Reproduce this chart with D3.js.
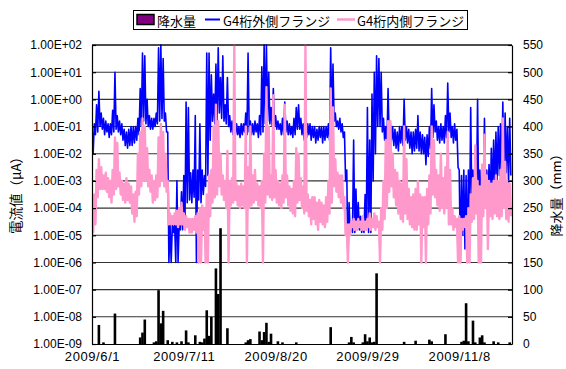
<!DOCTYPE html>
<html>
<head>
<meta charset="utf-8">
<script src="https://cdn.jsdelivr.net/npm/d3@7"></script>
<style>
  body { margin: 0; background: #fff; }
  svg { display: block; }
</style>
</head>
<body>
<div id="chart"></div>
<script>
// period shown (daily values, day 0 = 2009/6/1)
const startDate = '2009/6/1'
const endDate = '2009/12/1'
const xTickLabels = ['2009/6/1', '2009/7/11', '2009/8/20', '2009/9/29', '2009/11/8']

const leftTicks = [1e2, 1e1, 1e0, 1e-1, 1e-2, 1e-3, 1e-4, 1e-5, 1e-6, 1e-7, 1e-8, 1e-9]
const rightTicks = [0, 50, 100, 150, 200, 250, 300, 350, 400, 450, 500, 550]

const seriesNames = ['降水量', 'G4桁外側フランジ', 'G4桁内側フランジ']

// current (log10 µA), daily low / high, G4 outer flange
const outerLo = [
  -2.0, -1.3, -1.2, -1.0, -1.1, -1.3, -1.2, -1.4, -1.3, -1.2,
  -1.1, -1.2, -1.3, -1.5, -1.7, -1.8, -1.7, -1.7, -1.6, -1.5,
  -1.3, -1.0, -0.8, -0.9, -1.0, -1.1, -1.1, -1.0, -0.9, -0.8,
  -0.7, -0.8, -1.2, -6.0, -6.0, -4.9, -6.0, -6.0, -4.8, -4.8,
  -4.6, -3.8, -3.7, -3.8, -3.6, -6.0, -3.7, -3.8, -3.5, -3.2,
  -2.8, -1.5, -0.8, -0.9, -0.8, -0.5, -0.7, -0.8, -0.9, -1.0,
  -1.2, -1.3, -1.3, -1.3, -1.4, -1.3, -1.2, -1.3, -1.2, -1.3,
  -1.3, -1.2, -1.4, -1.3, -1.2, -0.9, -0.8, -0.9, -1.0, -1.0,
  -1.1, -1.1, -1.3, -1.3, -1.2, -1.3, -1.3, -1.4, -1.3, -1.1,
  -1.1, -1.3, -1.5, -1.4, -1.3, -1.5, -1.4, -1.6, -1.5, -1.4,
  -1.6, -1.5, -1.4, -1.5, -1.0, -0.8, -1.0, -1.1, -1.2, -1.4,
  -3.0, -6.0, -4.9, -4.9, -4.9, -4.8, -4.8, -4.9, -4.9, -4.8,
  -4.9, -4.9, -3.0, -2.0, -1.0, -1.0, -1.2, -1.5, -1.7, -1.5,
  -1.5, -1.7, -1.8, -1.9, -1.6, -1.7, -1.5, -1.6, -1.8, -2.0,
  -1.9, -1.8, -1.9, -2.0, -2.0, -2.4, -2.1, -1.8, -1.4, -1.2,
  -1.5, -1.6, -1.5, -1.6, -1.4, -1.2, -1.4, -1.6, -1.5, -2.5,
  -5.9, -5.0, -5.5, -6.0, -4.8, -3.8, -3.5, -3.8, -3.9, -3.7,
  -3.5, -3.6, -3.7, -3.8, -3.5, -3.3, -3.0, -2.8, -3.0, -2.9,
  -2.7, -3.1, -2.8
]
const outerHi = [
  -1.0, -0.9, -0.2, 0.3, -0.5, -0.7, -0.8, -0.9, -0.9, -0.4,
  1.0, -0.6, -0.8, -0.9, -1.1, -1.2, -1.1, -1.0, -1.0, -1.0,
  -0.7, 0.4, 1.7, 1.6, 0.0, -0.6, -0.7, -0.7, -0.5, 1.9,
  2.0, 1.5, -0.5, -1.2, -4.6, -4.6, -4.6, -3.0, -4.5, -3.4,
  -2.8, -0.1, -0.3, -2.7, -2.6, -0.6, -2.6, -0.9, -2.6, -2.8,
  1.7, 1.7, 0.9, 0.2, 1.3, 1.9, 0.8, 1.6, -0.2, 0.8,
  -0.6, -0.8, -0.9, -0.9, -1.0, -0.9, -0.9, -0.5, 1.7, -0.8,
  -0.9, -0.8, -0.9, -0.6, 1.2, 2.0, 2.0, 1.0, -0.3, 0.4,
  -0.6, -0.8, -0.9, -0.7, -0.1, -0.8, -0.9, -1.0, -0.7, -0.3,
  -0.2, -0.7, -0.9, -0.9, -0.9, -0.9, -1.0, -1.0, -1.1, -1.0,
  -1.0, -1.0, -1.0, -0.9, 1.9, 1.3, -0.5, -0.8, -0.7, -0.9,
  -1.2, -2.6, -3.8, -4.6, -1.5, -3.3, -3.8, -4.3, -4.4, -3.5,
  -0.3, -1.5, 0.2, 1.0, 1.6, 1.5, 1.0, -0.7, -1.0, 0.4,
  -0.9, -1.0, -1.1, -1.2, -1.0, -1.0, 0.0, -1.0, -1.1, -1.2,
  -1.2, -1.1, -0.6, -1.2, -1.3, -1.4, -1.3, -1.0, 0.4, -0.2,
  -0.8, -1.0, -0.9, -1.0, -0.6, 0.6, -0.5, -1.0, -0.9, -1.1,
  -2.6, -2.8, -2.6, -2.8, -2.6, -0.3, -2.6, -2.7, 0.0, -2.6,
  -2.5, -0.7, -2.6, -2.4, -1.8, -1.5, -1.2, -1.0, -0.9, -0.1,
  -0.5, -1.0, -0.7
]

// current (log10 µA), daily low / high, G4 inner flange
const innerLo = [
  -4.9, -4.6, -3.6, -3.3, -3.3, -3.3, -3.4, -3.6, -3.8, -3.5,
  -3.3, -3.2, -3.5, -3.7, -3.8, -3.7, -3.8, -4.2, -4.5, -4.3,
  -3.5, -3.2, -3.0, -3.0, -3.2, -3.4, -3.8, -3.7, -3.6, -3.2,
  -3.0, -3.2, -3.4, -4.6, -4.6, -4.6, -4.6, -4.7, -4.6, -4.6,
  -4.8, -4.7, -4.9, -4.9, -4.8, -4.9, -6.0, -6.0, -4.8, -6.0,
  -6.0, -4.3, -3.8, -3.6, -3.5, -3.2, -3.5, -3.7, -4.0, -6.0,
  -3.9, -3.8, -3.7, -3.9, -4.0, -3.9, -4.0, -6.0, -4.0, -3.9,
  -3.8, -3.7, -3.9, -4.0, -6.0, -3.8, -3.5, -3.6, -3.7, -3.6,
  -3.8, -3.9, -4.0, -3.8, -3.6, -3.9, -4.1, -4.2, -4.3, -3.8,
  -3.7, -4.0, -4.2, -4.1, -4.3, -4.6, -4.4, -4.6, -4.8, -4.5,
  -4.6, -4.7, -4.5, -4.2, -3.8, -3.2, -3.4, -3.6, -3.8, -4.0,
  -5.0, -6.0, -5.0, -4.7, -4.8, -4.8, -4.7, -4.8, -4.8, -4.8,
  -4.7, -4.8, -4.7, -4.8, -4.7, -6.0, -4.8, -4.4, -4.0, -3.4,
  -3.2, -3.6, -3.9, -4.2, -4.4, -4.5, -4.2, -4.4, -4.6, -4.7,
  -4.8, -4.8, -4.6, -6.0, -4.7, -6.0, -4.6, -4.2, -3.5, -3.6,
  -3.9, -4.1, -4.0, -4.2, -4.0, -4.6, -4.6, -4.8, -4.7, -6.0,
  -6.0, -4.8, -4.7, -6.0, -6.0, -4.5, -4.4, -4.2, -6.0, -6.0,
  -4.3, -4.0, -5.5, -4.3, -4.4, -4.2, -4.3, -4.4, -4.3, -4.0,
  -4.4, -4.5, -4.3
]
const innerHi = [
  -4.2, -3.5, -2.6, -2.2, -2.5, -2.8, -2.7, -2.9, -3.0, -2.6,
  -1.4, -1.6, -2.7, -3.0, -3.1, -2.9, -3.1, -3.2, -3.5, -3.4,
  -2.0, -1.2, -0.7, -1.0, -1.8, -2.6, -2.8, -3.0, -2.8, -1.4,
  -0.9, -1.2, -2.0, -3.0, -4.2, -4.3, -4.2, -4.1, -4.0, -3.8,
  -4.2, -4.3, -4.4, -4.4, -4.4, -4.3, -4.2, -4.0, -3.9, -4.0,
  -3.5, -2.8, -2.6, -1.0, -0.2, -0.8, -2.0, -2.8, -3.0, -1.9,
  -3.0, -2.9, 2.0, -3.1, -3.2, -3.1, -3.2, -1.0, -2.5, -1.0,
  -2.8, -2.6, -3.1, -3.2, -3.0, -2.0, 0.45, -1.0, -2.8, 0.15,
  -2.6, -3.0, -3.1, -2.8, -0.2, -2.8, -3.2, -3.3, -3.0, -1.8,
  -2.0, -2.9, -3.2, 2.0, -3.5, -3.7, -3.6, -3.6, -3.8, -3.7,
  -3.8, -3.9, -3.6, -3.0, 0.4, -0.3, -2.2, -2.7, -2.8, -2.8,
  -3.6, -4.6, -4.6, -4.5, -4.4, -4.5, -4.4, -4.5, -4.3, -4.5,
  -4.4, -4.2, -4.4, -4.2, -4.3, -4.5, -4.0, -3.0, -1.5, -0.8,
  -0.8, -2.0, -2.6, -2.7, -3.0, -3.1, -1.0, -2.2, -3.3, -3.6,
  -3.5, -3.3, -3.0, -3.5, -3.6, -3.6, -3.3, -2.8, -1.0, -1.5,
  -2.6, -2.8, -2.0, -2.9, -2.5, -1.2, -2.6, -4.0, -4.3, -4.4,
  -4.3, -4.4, -4.4, -4.3, -4.0, -3.5, -2.9, -1.7, -3.0, -3.2,
  -2.4, -1.3, -2.8, -3.0, -3.1, -3.0, -2.8, -3.0, -2.6, -0.7,
  -2.3, -3.0, -3.1
]

// daily rainfall (mm), day index from 2009/6/1
const rainDays = [3, 5, 10, 21, 22, 23, 27, 28, 29, 30, 31, 33, 35, 37, 39, 41, 42, 45, 47, 48,
  49, 50, 51, 52, 54, 55, 56, 59, 67, 68, 69, 73, 74, 75, 76, 77, 78, 81, 83, 89,
  104, 112, 113, 114, 118, 119, 120, 121, 122, 123, 124, 136, 141, 147, 148, 154, 161, 162, 163, 164,
  166, 167, 169, 170, 171, 175, 177, 182]
const rainMm = [35, 3, 56, 12, 21, 45, 3, 5, 99, 38, 61, 7, 4, 3, 5, 25, 3, 16, 4, 3,
  10, 62, 15, 50, 139, 92, 213, 29, 3, 7, 9, 23, 7, 22, 39, 4, 19, 5, 3, 3,
  31, 3, 13, 3, 3, 18, 5, 12, 3, 4, 130, 4, 6, 8, 5, 18, 4, 6, 75, 5,
  43, 3, 12, 16, 3, 5, 3, 3]

const parseDate = s => { const [y, m, d] = s.split('/').map(Number); return new Date(y, m - 1, d) }

const width = 566
const height = 369
const plot = { left: 92, right: 512, top: 45, bottom: 344 }

const svg = d3.select('#chart')
  .append('svg')
  .attr('width', width)
  .attr('height', height)

// scales
const start = parseDate(startDate)
const x = d3.scaleTime()
  .domain([start, parseDate(endDate)])
  .range([plot.left, plot.right])

const yLeft = d3.scaleLog()
  .domain([1e-9, 1e2])
  .range([plot.bottom, plot.top])

const yRight = d3.scaleLinear()
  .domain([0, 550])
  .range([plot.bottom, plot.top])

const expLabel = v => {
  const e = Math.round(Math.log10(v))
  return '1.00E' + (e < 0 ? '-' : '+') + String(Math.abs(e)).padStart(2, '0')
}

// gridlines
svg.append('g')
  .selectAll('line')
  .data(leftTicks.slice(0, -1))
  .enter()
  .append('line')
  .attr('x1', plot.left)
  .attr('x2', plot.right)
  .attr('y1', d => yLeft(d))
  .attr('y2', d => yLeft(d))
  .attr('stroke', '#333')
  .attr('stroke-width', 1.1)

// rainfall bars
svg.append('g')
  .selectAll('rect')
  .data(rainDays.map((d, i) => ({ date: d3.timeDay.offset(start, d), mm: rainMm[i] })))
  .enter()
  .append('rect')
  .attr('x', d => x(d.date) - 1.3)
  .attr('y', d => yRight(d.mm))
  .attr('width', 2.6)
  .attr('height', d => plot.bottom - yRight(d.mm))
  .attr('fill', '#000')

// current series: each day drawn high -> low so the hourly scatter reads as a band
const bandPoints = (lo, hi) => lo.flatMap((v, i) => {
  const day = d3.timeDay.offset(start, i)
  return [
    { t: day, v: Math.pow(10, hi[i]) },
    { t: d3.timeHour.offset(day, 12), v: Math.pow(10, v) }
  ]
})

svg.append('clipPath')
  .attr('id', 'plot-clip')
  .append('rect')
  .attr('x', plot.left)
  .attr('y', plot.top - 1)
  .attr('width', plot.right - plot.left)
  .attr('height', plot.bottom - plot.top + 1)

const line = d3.line()
  .x(d => x(d.t))
  .y(d => yLeft(d.v))

svg.append('path')
  .datum(bandPoints(outerLo, outerHi))
  .attr('clip-path', 'url(#plot-clip)')
  .attr('fill', 'none')
  .attr('stroke', '#0000ff')
  .attr('stroke-width', 1.6)
  .attr('stroke-linejoin', 'round')
  .attr('d', line)

svg.append('path')
  .datum(bandPoints(innerLo, innerHi))
  .attr('clip-path', 'url(#plot-clip)')
  .attr('fill', 'none')
  .attr('stroke', '#ff99cc')
  .attr('stroke-width', 2.4)
  .attr('stroke-linejoin', 'round')
  .attr('d', line)

// axes
const leftAxis = svg.append('g')
  .attr('transform', `translate(${plot.left},0)`)
  .call(d3.axisLeft(yLeft).tickValues(leftTicks).tickFormat(expLabel).tickSizeInner(-4).tickSizeOuter(0).tickPadding(10))

const rightAxis = svg.append('g')
  .attr('transform', `translate(${plot.right},0)`)
  .call(d3.axisRight(yRight).tickValues(rightTicks).tickSizeInner(-4).tickSizeOuter(0).tickPadding(11))

const bottomAxis = svg.append('g')
  .attr('transform', `translate(0,${plot.bottom})`)
  .call(d3.axisBottom(x).tickValues(xTickLabels.map(parseDate)).tickFormat((d, i) => xTickLabels[i]).tickSize(0).tickPadding(8))

svg.selectAll('.domain, .tick line')
  .attr('stroke', '#000')
  .attr('stroke-width', 1.2)

leftAxis.selectAll('text').attr('font-size', 12)
rightAxis.selectAll('text').attr('font-size', 12)
bottomAxis.selectAll('text').attr('font-size', 13).attr('letter-spacing', 0.6)
svg.selectAll('.tick text')
  .attr('font-family', '"Liberation Sans", Arial, sans-serif')
  .attr('fill', '#000')

// top border
svg.append('line')
  .attr('x1', plot.left)
  .attr('x2', plot.right)
  .attr('y1', plot.top)
  .attr('y2', plot.top)
  .attr('stroke', '#000')
  .attr('stroke-width', 1.2)

// axis titles
const jpFont = '"Noto Sans CJK JP", sans-serif'

svg.append('text')
  .attr('text-anchor', 'middle')
  .attr('dominant-baseline', 'central')
  .attr('transform', 'translate(15,192) rotate(-90)')
  .attr('font-family', jpFont)
  .attr('font-size', 13.5)
  .text('電流値（μA）')

svg.append('text')
  .attr('text-anchor', 'middle')
  .attr('dominant-baseline', 'central')
  .attr('transform', 'translate(555,192) rotate(-90)')
  .attr('font-family', jpFont)
  .attr('font-size', 13)
  .text('降水量（mm）')

// legend
const legend = svg.append('g')
  .attr('font-family', jpFont)
  .attr('font-size', 13)

legend.append('rect')
  .attr('x', 133.5)
  .attr('y', 10.5)
  .attr('width', 334)
  .attr('height', 19)
  .attr('fill', '#fff')
  .attr('stroke', '#000')

legend.append('rect')
  .attr('x', 137)
  .attr('y', 14.5)
  .attr('width', 17)
  .attr('height', 10)
  .attr('fill', '#800080')
  .attr('stroke', '#000')
  .attr('stroke-width', 1.5)

legend.append('line')
  .attr('x1', 205).attr('x2', 220)
  .attr('y1', 19.5).attr('y2', 19.5)
  .attr('stroke', '#0000ff')
  .attr('stroke-width', 2)

legend.append('line')
  .attr('x1', 337).attr('x2', 355)
  .attr('y1', 19.5).attr('y2', 19.5)
  .attr('stroke', '#ff99cc')
  .attr('stroke-width', 2.5)

legend.selectAll('text')
  .data(seriesNames)
  .enter()
  .append('text')
  .attr('x', (d, i) => [157, 223, 357][i])
  .attr('y', 20)
  .attr('dominant-baseline', 'central')
  .text(d => d)
</script>
</body>
</html>
